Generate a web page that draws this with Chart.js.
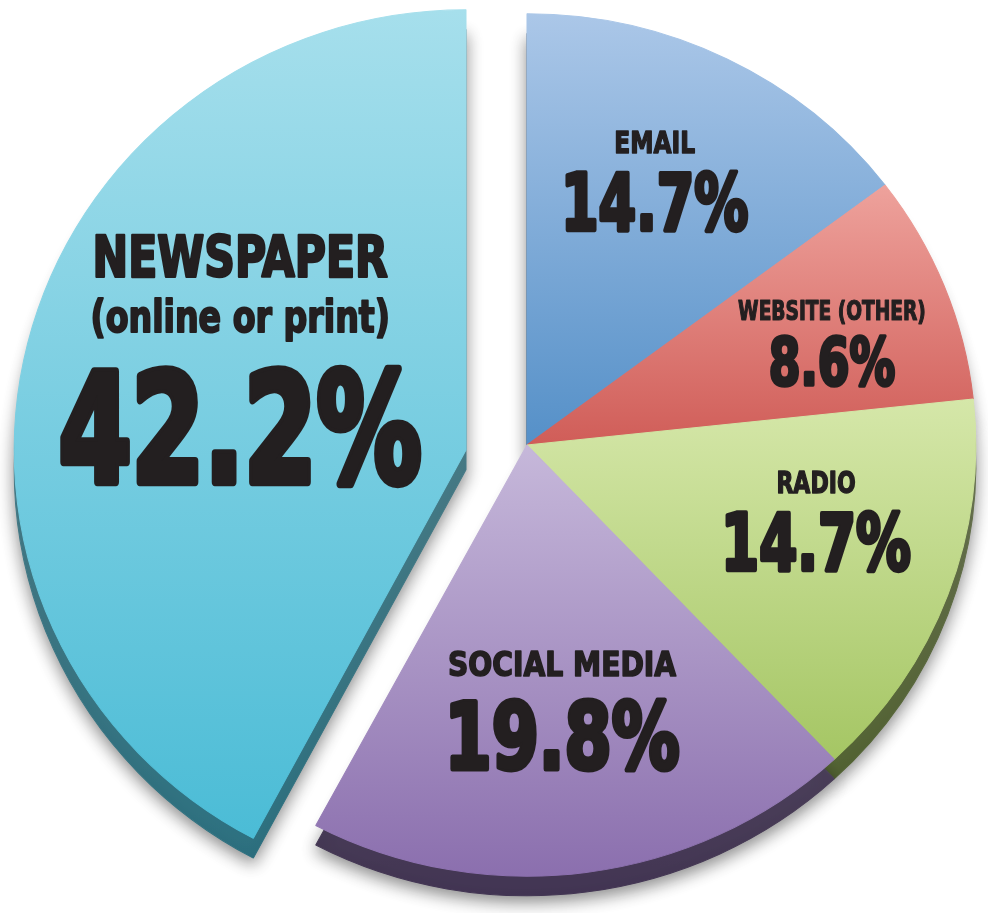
<!DOCTYPE html>
<html>
<head>
<meta charset="utf-8">
<script src="https://cdn.jsdelivr.net/npm/chart.js@4.4.0/dist/chart.umd.min.js"></script>
<style>
  html, body { margin: 0; padding: 0; background: #fff; }
  #wrap { position: relative; width: 988px; height: 913px; }
  #wrap canvas { position: absolute; left: 0; top: 0; }
</style>
</head>
<body>
<div id="wrap">
  <canvas id="pieMain" width="988" height="913"></canvas>
  <canvas id="pieNews" width="988" height="913"></canvas>
</div>
<script>
// data
const categories = ['EMAIL', 'WEBSITE (OTHER)', 'RADIO', 'SOCIAL MEDIA', 'NEWSPAPER'];
const subLabels = ['', '', '', '', '(online or print)'];
const shares = [14.7, 8.6, 14.7, 19.8, 42.2];
const percentLabels = ['14.7%', '8.6%', '14.7%', '19.8%', '42.2%'];

// styling
const topColors = ['#abc7e8', '#eea29c', '#d5e7a9', '#c6b8da', '#a6dfec'];
const bottomColors = ['#5590c8', '#d05d58', '#a5c664', '#8b6fae', '#4bbcd6'];
const sideShade = [0.5, 0.5, 0.5, 0.48, 0.6];
const labelSpot = [[0.472, 0.674], [0.581, 0.719], [0.407, 0.668], [0.505, 0.623], [0.554, 0.54]]; // [angle fraction, radius fraction]
const nameSize = [29.5, 26.5, 29.5, 33, 57];
const subSize = [0, 0, 0, 0, 44];
const pctSize = [78, 65, 78, 93, 151];
const nameSqueeze = [0.88, 0.78, 0.83, 0.95, 0.83];
const pctSqueeze = [0.77, 0.78, 0.78, 0.81, 0.77];
const subSqueeze = 0.84;

const FONT = '"Liberation Sans Narrow", "DejaVu Sans Condensed", sans-serif';
const CAP = 0.729;
const DEPTH = 20;

function sliceAngles(i) {
  const total = shares.reduce((a, b) => a + b, 0);
  let acc = 0;
  for (let k = 0; k < i; k++) acc += shares[k];
  const a0 = -Math.PI / 2 + acc / total * 2 * Math.PI;
  return [a0, a0 + shares[i] / total * 2 * Math.PI];
}

function faceFill(shown) {
  return (c) => {
    const i = c.dataIndex;
    if (!shown.includes(i)) return 'rgba(0,0,0,0)';
    const area = c.chart.chartArea;
    if (!area) return bottomColors[i];
    const cy = (area.top + area.bottom) / 2;
    const R = c.dataset.radius;
    const [a0, a1] = sliceAngles(i);
    let minY = cy, maxY = cy;
    for (let s = 0; s <= 40; s++) {
      const y = cy + Math.sin(a0 + (a1 - a0) * s / 40) * R;
      minY = Math.min(minY, y);
      maxY = Math.max(maxY, y);
    }
    const g = c.chart.ctx.createLinearGradient(0, minY, 0, maxY);
    g.addColorStop(0, topColors[i]);
    g.addColorStop(1, bottomColors[i]);
    return g;
  };
}

// squashes the pie a little and draws the dark rim + shadow under it
const depthPlugin = {
  id: 'depth',
  beforeDatasetsDraw(chart, args, opts) {
    const ctx = chart.ctx;
    const a = chart.chartArea;
    const cx = (a.left + a.right) / 2, cy = (a.top + a.bottom) / 2;
    ctx.save();
    ctx.translate(cx, cy);
    ctx.scale(opts.tilt[0], opts.tilt[1]);
    ctx.translate(-cx, -cy);
    ctx.save();
    ctx.translate(0, DEPTH);
    ctx.shadowColor = 'rgba(0,0,0,0.45)';
    ctx.shadowBlur = 16;
    ctx.shadowOffsetY = 6;
    chart.getDatasetMeta(0).data.forEach((arc, i) => {
      ctx.filter = 'brightness(' + Math.round(sideShade[i] * 100) + '%)';
      arc.draw(ctx);
    });
    ctx.restore();
  },
  afterDatasetsDraw(chart) {
    chart.ctx.restore();
  }
};

const labelPlugin = {
  id: 'sliceText',
  afterDraw(chart, args, opts) {
    const ctx = chart.ctx;
    const tilt = chart.options.plugins.depth.tilt;
    const arcs = chart.getDatasetMeta(0).data;
    ctx.save();
    ctx.fillStyle = '#231f20';
    ctx.strokeStyle = '#231f20';
    ctx.textAlign = 'center';
    ctx.textBaseline = 'alphabetic';
    ctx.lineJoin = 'round';
    opts.shown.forEach(i => {
      const arc = arcs[i];
      const ang = arc.startAngle + labelSpot[i][0] * (arc.endAngle - arc.startAngle);
      const px = arc.x + Math.cos(ang) * labelSpot[i][1] * arc.outerRadius * tilt[0];
      const py = arc.y + Math.sin(ang) * labelSpot[i][1] * arc.outerRadius * tilt[1];
      const lines = [{ text: categories[i], size: nameSize[i], lw: nameSize[i] * 0.045, gap: 0, sq: nameSqueeze[i] }];
      if (subLabels[i]) lines.push({ text: subLabels[i], size: subSize[i], lw: subSize[i] * 0.045, gap: 21, sq: subSqueeze });
      lines.push({ text: percentLabels[i], size: pctSize[i], lw: pctSize[i] * 0.055, gap: pctSize[i] * 0.23, sq: pctSqueeze[i] });
      let total = 0;
      lines.forEach(l => { total += l.gap + l.size * CAP + l.lw; });
      let y = py - total / 2;
      lines.forEach(l => {
        y += l.gap + l.size * CAP + l.lw;
        ctx.save();
        ctx.translate(px, y - l.lw / 2);
        ctx.scale(l.sq, 1);
        ctx.font = 'bold ' + l.size + 'px ' + FONT;
        ctx.lineWidth = l.lw;
        ctx.strokeText(l.text, 0, 0);
        ctx.fillText(l.text, 0, 0);
        ctx.restore();
      });
    });
    ctx.restore();
  }
};

function makePie(id, shown, radius, tilt, padding) {
  const fill = faceFill(shown);
  return new Chart(document.getElementById(id), {
    type: 'pie',
    data: {
      labels: categories,
      datasets: [{
        data: shares,
        radius: radius,
        backgroundColor: fill,
        borderColor: fill,
        borderWidth: 1,
        clip: false
      }]
    },
    options: {
      responsive: false,
      animation: false,
      events: [],
      layout: { padding: padding },
      plugins: {
        legend: { display: false },
        tooltip: { enabled: false },
        depth: { tilt: tilt },
        sliceText: { shown: shown }
      }
    },
    plugins: [depthPlugin, labelPlugin]
  });
}

// main pie, and the pulled-out newspaper slice on its own layer
makePie('pieMain', [0, 1, 2, 3], 440, [1.02, 0.98], { left: 66, right: 0, top: 0, bottom: 23 });
makePie('pieNews', [4], 446, [1.013, 0.987], { left: 0, right: 56, top: 0, bottom: 13 });
</script>
</body>
</html>
